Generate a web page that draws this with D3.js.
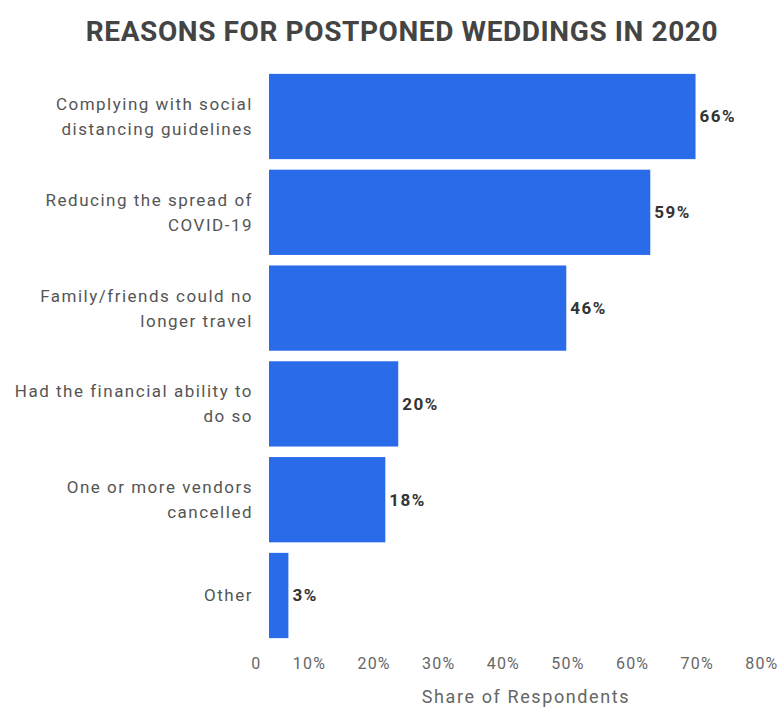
<!DOCTYPE html>
<html>
<head>
<meta charset="utf-8">
<style>
  body { margin: 0; background: white; font-family: Roboto, "Noto Sans", Arial, sans-serif; }
  svg { display: block; }
</style>
<script src="https://cdn.jsdelivr.net/npm/d3@7"></script>
</head>
<body>
<svg id="chart"></svg>
<script>
// category labels, already broken into the lines shown on the chart
const categories = [
  ["Complying with social", "distancing guidelines"],
  ["Reducing the spread of", "COVID-19"],
  ["Family/friends could no", "longer travel"],
  ["Had the financial ability to", "do so"],
  ["One or more vendors", "cancelled"],
  ["Other"]
];
const shares = [66, 59, 46, 20, 18, 3];
const tickValues = [0, 10, 20, 30, 40, 50, 60, 70, 80];
const tickLabels = ["0", "10%", "20%", "30%", "40%", "50%", "60%", "70%", "80%"];

const width = 780, height = 711;
const svg = d3.select("#chart").attr("width", width).attr("height", height);

const data = categories.map((c, i) => ({ id: i, lines: c, value: shares[i] }));

const x = d3.scaleLinear().domain([0, 80]).range([269, 786]);
const y = d3.scaleBand().domain(data.map(d => d.id)).range([71, 641]).paddingInner(0.11).paddingOuter(0.03);

// title
svg.append("text")
  .attr("x", 402).attr("y", 41)
  .attr("text-anchor", "middle")
  .style("font-size", "28px").style("font-weight", "bold")
  .style("fill", "#444").style("letter-spacing", "0.6px")
  .text("REASONS FOR POSTPONED WEDDINGS IN 2020");

// bars
svg.selectAll("rect.bar").data(data).enter().append("rect")
  .attr("class", "bar")
  .attr("x", x(0))
  .attr("y", d => y(d.id))
  .attr("width", d => x(d.value) - x(0))
  .attr("height", y.bandwidth())
  .attr("fill", "#2a6be9");

// value labels
svg.selectAll("text.val").data(data).enter().append("text")
  .attr("class", "val")
  .attr("x", d => x(d.value) + 4)
  .attr("y", d => y(d.id) + y.bandwidth() / 2)
  .attr("dy", "0.35em")
  .style("font-size", "17px").style("font-weight", "bold").style("fill", "#333")
  .style("letter-spacing", "1.5px")
  .text(d => d.value + "%");

// category labels
const cat = svg.selectAll("text.cat").data(data).enter().append("text")
  .attr("class", "cat")
  .attr("text-anchor", "end")
  .style("font-size", "17px").style("fill", "#555")
  .style("letter-spacing", "1.5px");
cat.each(function(d) {
  const t = d3.select(this);
  const mid = y(d.id) + y.bandwidth() / 2;
  const lh = 25;
  const start = mid - (d.lines.length - 1) * lh / 2;
  d.lines.forEach((line, i) => {
    t.append("tspan").attr("x", 253).attr("y", start + i * lh).attr("dy", "0.35em").text(line);
  });
});

// x axis (labels only, right-aligned just left of each tick)
const axis = d3.axisBottom(x).tickValues(tickValues).tickFormat((d, i) => tickLabels[i]).tickSize(0);
const gx = svg.append("g").attr("transform", "translate(0,655)").call(axis);
gx.select(".domain").remove();
gx.selectAll("text")
  .attr("text-anchor", "end").attr("dx", -8)
  .style("font-size", "16px").style("fill", "#666").style("letter-spacing", "1.2px")
  .style("font-family", "Roboto, 'Noto Sans', Arial, sans-serif");

svg.append("text")
  .attr("x", 526).attr("y", 703)
  .attr("text-anchor", "middle")
  .style("font-size", "18px").style("fill", "#666").style("letter-spacing", "1.6px")
  .text("Share of Respondents");
</script>
</body>
</html>
